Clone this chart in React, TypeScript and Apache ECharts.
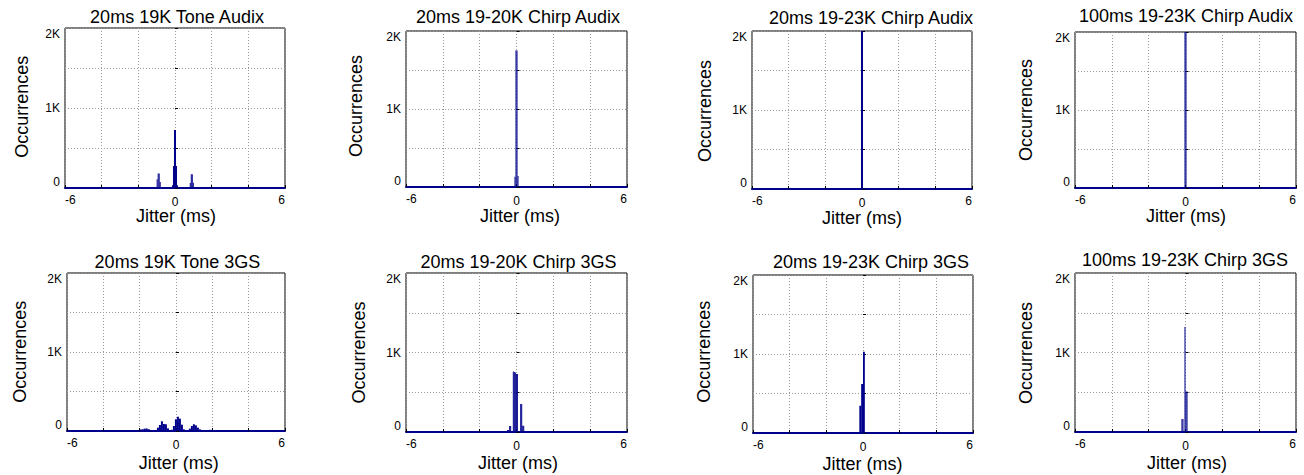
import { useEffect, useRef } from 'react';
import * as echarts from 'echarts';

// Jitter histograms: [bin start (ms), occurrences]
const toneAudixBins = [
  [-1.0, 110], [-0.945, 181], [-0.89, 181], [-0.835, 75],
  [-0.165, 34], [-0.11, 276], [-0.055, 724], [0, 724], [0.055, 276], [0.11, 34],
  [0.805, 63], [0.86, 172], [0.915, 172], [0.97, 65],
];
const chirp1920AudixBins = [[-0.11, 130], [-0.055, 1750], [0, 1750], [0.055, 140]];
const chirp1923AudixBins = [[-0.055, 2300], [0, 2300]];
const chirp1923LongAudixBins = [[-0.055, 2300], [0, 2300]];
const tone3gsBins = [
  [-4.0, 8], [-3.89, 5], [-2.86, 6], [-2.75, 8],
  [-2.0, 20], [-1.89, 22], [-1.78, 30], [-1.67, 32], [-1.56, 24], [-1.45, 12], [-1.34, 10],
  [-1.05, 42], [-0.94, 76], [-0.83, 123], [-0.72, 89], [-0.61, 85], [-0.5, 34], [-0.39, 9],
  [-0.28, 15], [-0.17, 63], [-0.06, 148], [0.05, 181], [0.16, 156], [0.27, 80], [0.38, 21],
  [0.49, 8], [0.6, 8], [0.71, 30], [0.82, 63], [0.93, 85], [1.04, 72], [1.15, 42], [1.26, 21],
  [1.37, 8], [1.48, 5], [1.7, 12], [1.81, 15], [1.92, 14], [2.03, 10],
  [2.6, 4], [3.1, 5], [3.6, 4],
];
const chirp1920_3gsBins = [
  [-0.51, 25], [-0.455, 25], [-0.4, 76], [-0.345, 76],
  [-0.2, 760], [-0.145, 755], [-0.09, 748], [-0.035, 731], [0.02, 731],
  [0.2, 353], [0.255, 353], [0.31, 80], [0.365, 80],
];
const chirp1923_3gsBins = [[-0.2, 345], [-0.1, 620], [0, 1030]];
const chirp1923Long3gsBins = [[-0.22, 163], [-0.165, 163], [-0.055, 1321], [0, 511], [0.055, 511]];

const panelTitles = [
  '20ms 19K Tone Audix', '20ms 19-20K Chirp Audix', '20ms 19-23K Chirp Audix', '100ms 19-23K Chirp Audix',
  '20ms 19K Tone 3GS', '20ms 19-20K Chirp 3GS', '20ms 19-23K Chirp 3GS', '100ms 19-23K Chirp 3GS',
];
const panelBins = [
  toneAudixBins, chirp1920AudixBins, chirp1923AudixBins, chirp1923LongAudixBins,
  tone3gsBins, chirp1920_3gsBins, chirp1923_3gsBins, chirp1923Long3gsBins,
];
const binWidths = [0.055, 0.055, 0.055, 0.055, 0.11, 0.055, 0.1, 0.055];

const xTickValues = [-6, 0, 6];
const yTickText: Record<number, string> = { 0: '0', 1000: '1K', 2000: '2K' };
const xAxisTitle = 'Jitter (ms)';
const yAxisTitle = 'Occurrences';

// Layout: plot boxes [left, top, width, height] and text anchors
const gridBoxes = [
  [65, 28, 220, 160], [406, 31, 221, 156], [752, 31, 220, 158], [1075, 32, 221, 156],
  [67, 273, 218, 158], [406, 273, 221, 159], [753, 275, 220, 158], [1075, 273, 221, 159],
];
const titleAnchors = [
  [177, 16.5], [518, 16.7], [871, 18], [1186, 16.3],
  [177.5, 261.7], [518.5, 261.7], [871, 261.7], [1185, 259.7],
];
const yNameAnchors = [
  [21.7, 106.7], [356, 106], [704.5, 111], [1025.7, 110],
  [20, 351.7], [358.8, 352.5], [703.7, 351.7], [1025.7, 353],
];
const xNameAnchors = [
  [176, 216], [520, 216], [862, 218], [1186, 216],
  [178.7, 462.7], [518, 462.7], [862.5, 463.5], [1187, 462.7],
];

const FONT = "'Liberation Sans', Arial, Helvetica, sans-serif";
const NAVY = '#00008b';

export default function App() {
  const ref = useRef<HTMLDivElement>(null);

  useEffect(() => {
    if (!ref.current) return;
    const chart = echarts.init(ref.current, undefined, { renderer: 'svg' });

    const grid = gridBoxes.map(([left, top, width, height]) => ({
      left, top, width, height,
      show: true,
      borderColor: '#000',
      borderWidth: 1,
      backgroundColor: 'transparent',
    }));

    const xAxis = gridBoxes.map((_, i) => ({
      type: 'value',
      gridIndex: i,
      min: -6,
      max: 6,
      interval: 2,
      axisLine: { show: true, onZero: false, lineStyle: { color: NAVY, width: 2 } },
      axisTick: { show: true, inside: true, length: 3, lineStyle: { color: '#000' } },
      splitLine: { show: true, lineStyle: { color: '#999', width: 1, type: [1, 2] } },
      axisLabel: {
        show: true,
        margin: 6,
        fontSize: 12,
        fontFamily: FONT,
        color: '#000',
        alignMinLabel: 'left',
        alignMaxLabel: 'right',
        formatter: (v: number) => (v === 0 ? '{z|0}' : xTickValues.includes(v) ? String(v) : ''),
        rich: { z: { fontSize: 12, fontFamily: FONT, color: '#000', lineHeight: 12, padding: [3, 0, 0, 0] } },
      },
    }));

    const yAxis = gridBoxes.map((_, i) => ({
      type: 'value',
      gridIndex: i,
      min: 0,
      max: 2000,
      interval: 500,
      axisLine: { show: false },
      axisTick: { show: true, inside: true, length: 3, lineStyle: { color: '#000' } },
      splitLine: { show: true, lineStyle: { color: '#999', width: 1, type: [1, 2] } },
      axisLabel: {
        show: true,
        margin: 5,
        fontSize: 12,
        fontFamily: FONT,
        color: '#000',
        verticalAlignMinLabel: 'bottom',
        verticalAlignMaxLabel: 'top',
        formatter: (v: number) => yTickText[v] ?? '',
      },
    }));

    const series = panelBins.map((bins, i) => {
      const bw = binWidths[i];
      return {
        type: 'custom',
        xAxisIndex: i,
        yAxisIndex: i,
        data: bins,
        encode: { x: 0, y: 1 },
        renderItem: (params: any, api: any) => {
          const x0 = api.value(0);
          const v = api.value(1);
          const a = api.coord([x0, 0]);
          const b = api.coord([x0 + bw, v]);
          const cs = params.coordSys;
          const shape = echarts.graphic.clipRectByRect(
            { x: a[0], y: b[1], width: b[0] - a[0], height: a[1] - b[1] },
            { x: cs.x, y: cs.y, width: cs.width, height: cs.height }
          );
          if (!shape) return null;
          return { type: 'rect', shape, style: { fill: NAVY } };
        },
      };
    });

    const textStyle = (text: string) => ({
      text,
      fill: '#000',
      fontSize: 18,
      fontFamily: FONT,
      align: 'center',
      verticalAlign: 'middle',
    });

    const graphic: any[] = [];
    panelTitles.forEach((t, i) => {
      graphic.push({ type: 'text', x: titleAnchors[i][0], y: titleAnchors[i][1], style: textStyle(t) });
      graphic.push({
        type: 'text',
        x: yNameAnchors[i][0],
        y: yNameAnchors[i][1],
        rotation: Math.PI / 2,
        style: textStyle(yAxisTitle),
      });
      graphic.push({ type: 'text', x: xNameAnchors[i][0], y: xNameAnchors[i][1], style: textStyle(xAxisTitle) });
    });

    chart.setOption({
      animation: false,
      backgroundColor: '#fff',
      textStyle: { fontFamily: FONT },
      grid,
      xAxis,
      yAxis,
      series,
      graphic,
    });

    return () => chart.dispose();
  }, []);

  return (
    <div
      ref={ref}
      style={{ position: 'fixed', left: 0, top: 0, width: 1304, height: 475, background: '#fff' }}
    />
  );
}
